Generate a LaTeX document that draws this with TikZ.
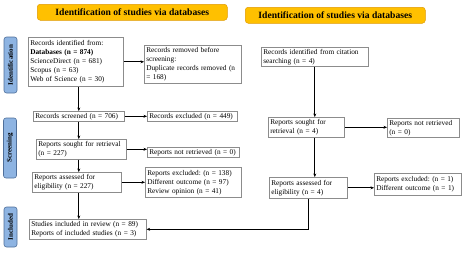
\documentclass[tikz,border=0pt]{standalone}
\usepackage{fontspec}
\setmainfont{Liberation Serif}
\usetikzlibrary{arrows.meta,calc}
\definecolor{hdrfill}{HTML}{FFC000}
\definecolor{hdrdraw}{HTML}{E09A00}
\definecolor{sidefill}{HTML}{8EB4E2}
\definecolor{sidedraw}{HTML}{4F6F9A}
\definecolor{boxdraw}{HTML}{8C8C8C}
\frenchspacing
\begin{document}
\begin{tikzpicture}[x=1pt,y=-1pt,
  box/.style={draw=boxdraw,line width=0.6pt,anchor=north west,align=left,
    inner xsep=2pt,inner ysep=1pt,font=\fontsize{7.3}{9}\selectfont\frenchspacing},
  hdr/.style={draw=hdrdraw,fill=hdrfill,rounded corners=3pt,line width=0.5pt,
    anchor=north west,font=\fontsize{9.6}{11}\selectfont\bfseries,inner sep=0pt},
  side/.style={draw=sidedraw,fill=sidefill,rounded corners=2.5pt,line width=0.6pt,
    rotate=90,font=\fontsize{7}{8}\selectfont\bfseries,inner sep=0pt,minimum height=13pt},
  arr/.style={line width=0.8pt,-{Stealth[length=3.5pt,width=3pt]}}]
\useasboundingbox (0,0) rectangle (470,252);
% headers
\node[hdr,minimum width=190pt,minimum height=16pt] (h1) at (37,4) {Identification of studies via databases};
\node[hdr,minimum width=180pt,minimum height=16pt] (h2) at (245,7) {Identification of studies via databases};
% side labels
\node[side,minimum width=56pt] (s1) at (10.5,65) {\mbox{Identification}};
\node[side,minimum width=60pt] (s2) at (10,148) {Screening};
\node[side,minimum width=40pt] (s3) at (10.5,227) {Included};
% left column
\node[box,text width=91pt,minimum height=49pt] (rid) at (28,37) {Records identified from:\\\textbf{Databases (n = 874)}\\ScienceDirect (n = 681)\\Scopus (n = 63)\\Web of Science (n = 30)};
\node[box,text width=93pt,minimum height=38pt] (rem) at (144,45) {Records removed before\\screening:\\Duplicate records removed (n\\= 168)};
\node[box,text width=87pt,minimum height=10pt] (scr) at (33,111) {Records screened (n = 706)};
\node[box,text width=86pt,minimum height=10pt] (exc) at (147,111) {Records excluded (n = 449)};
\node[box,text width=86pt,minimum height=20pt] (sought) at (36,139) {Reports sought for retrieval\\(n = 227)};
\node[box,text width=88pt,minimum height=10pt] (notret) at (147,147) {Reports not retrieved (n~=~0)};
\node[box,text width=85pt,minimum height=20pt] (assessed) at (32,172) {Reports assessed for\\eligibility (n = 227)};
\node[box,text width=92pt,minimum height=30pt] (excl) at (145,167) {Reports excluded: (n = 138)\\Different outcome (n = 97)\\Review opinion (n = 41)};
\node[box,text width=113pt,minimum height=20pt] (incl) at (29,219) {Studies included in review (n = 89)\\Reports of included studies (n = 3)};
% right column
\node[box,text width=103pt,minimum height=19pt] (cit) at (261,47) {Records identified from citation\\searching (n = 4)};
\node[box,text width=72pt,minimum height=20pt] (sought2) at (268,117) {Reports sought for\\retrieval (n = 4)};
\node[box,text width=68pt,minimum height=19pt] (notret2) at (387,118) {Reports not retrieved\\(n = 0)};
\node[box,text width=74pt,minimum height=21pt] (assessed2) at (269,177) {Reports assessed for\\eligibility (n = 4)};
\node[box,text width=83pt,minimum height=22pt] (excl2) at (374,173) {Reports excluded: (n = 1)\\Different outcome (n = 1)};
% left arrows
\draw[arr] (rid.east) -- (rid.east -| rem.west);
\draw[arr] (rid.south -| scr.north) -- (scr.north);
\draw[arr] (scr.east) -- (scr.east -| exc.west);
\draw[arr] (scr.south) -- (scr.south |- sought.north);
\draw[arr] (sought.east) -- (sought.east -| notret.west);
\draw[arr] (sought.south -| scr.south) -- (scr.south |- assessed.north);
\draw[arr] (assessed.east) -- (assessed.east -| excl.west);
\draw[arr] (assessed.south -| scr.south) -- (scr.south |- incl.north);
% right arrows
\draw[arr] (cit.south) -- (cit.south |- sought2.north);
\draw[arr] (sought2.south -| cit.south) -- (cit.south |- assessed2.north);
\draw[arr] (sought2.east) -- (sought2.east -| notret2.west);
\draw[arr] (assessed2.east) -- (assessed2.east -| excl2.west);
\draw[arr] (assessed2.south) |- (incl.east);
\end{tikzpicture}
\end{document}
